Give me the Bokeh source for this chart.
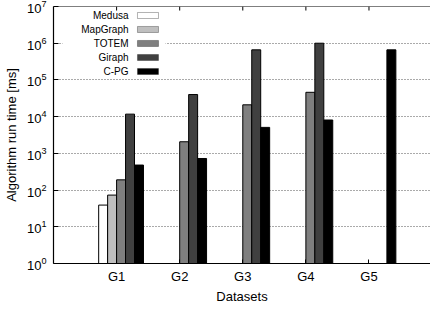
import numpy as np
from bokeh.plotting import figure
from bokeh.models import ColumnDataSource, FixedTicker, Range1d, BoxAnnotation, Label, Span
from bokeh.embed import file_html
from bokeh.resources import INLINE

# ---- data ----
datasets = ["G1", "G2", "G3", "G4", "G5"]
series_names = ["Medusa", "MapGraph", "TOTEM", "Giraph", "C-PG"]
medusa = [39, np.nan, np.nan, np.nan, np.nan]
mapgraph = [73, np.nan, np.nan, np.nan, np.nan]
totem = [190, 2070, 21000, 46000, np.nan]
giraph = [11700, 40000, 660000, 1000000, np.nan]
cpg = [480, 725, 5100, 8100, 660000]
series_values = [medusa, mapgraph, totem, giraph, cpg]
y_ticks = [1, 10, 100, 1000, 10000, 100000, 1000000, 10000000]

# ---- styles ----
colors = ["#ffffff", "#bfbfbf", "#7f7f7f", "#404040", "#000000"]
offsets = [-0.213, -0.071, 0.071, 0.213, 0.355]
bar_w = 0.142
FONT = "Liberation Sans"

p = figure(width=430, height=309, output_backend="svg", toolbar_location=None,
           y_axis_type="log", x_range=Range1d(0, 5.975), y_range=Range1d(1, 1e7))
p.min_border_left = 53
p.min_border_right = 0
p.min_border_top = 6
p.min_border_bottom = 46
p.outline_line_color = None
p.background_fill_color = "white"
p.border_fill_color = "white"

pos = np.arange(1, len(datasets) + 1)

for name, vals, col, off in zip(series_names, series_values, colors, offsets):
    v = np.array(vals, dtype=float)
    m = ~np.isnan(v)
    src = ColumnDataSource(dict(x=pos[m] + off, top=v[m], bottom=np.ones(m.sum())))
    p.vbar(x="x", top="top", bottom="bottom", width=bar_w, source=src,
           fill_color=col, line_color="black", line_width=1)

# x axis
p.xaxis.ticker = FixedTicker(ticks=list(pos))
p.xaxis.major_label_overrides = {int(i): d for i, d in zip(pos, datasets)}
p.xaxis.axis_label = "Datasets"
p.xaxis.major_tick_in = 4
p.xaxis.major_tick_out = 0
p.xaxis.minor_tick_line_color = None
p.xaxis.major_label_standoff = 5
p.xaxis.axis_label_standoff = 2

# y axis
p.yaxis.axis_label = "Algorithm run time [ms]"
p.yaxis.ticker = FixedTicker(ticks=y_ticks)
p.yaxis.major_tick_in = 5
p.yaxis.major_tick_out = 0
p.yaxis.minor_tick_line_color = None
p.yaxis.major_label_standoff = 7
p.yaxis.axis_label_standoff = 5

for ax in [p.xaxis[0], p.yaxis[0]]:
    ax.axis_line_color = "black"
    ax.axis_line_width = 1.2
    ax.major_tick_line_color = "black"
    ax.major_label_text_font = FONT
    ax.major_label_text_font_size = "13px"
    ax.major_label_text_color = "black"
    ax.axis_label_text_font = FONT
    ax.axis_label_text_font_size = "13px"
    ax.axis_label_text_font_style = "normal"
    ax.axis_label_text_color = "black"

# top border with mirrored ticks
p.add_layout(Span(location=y_ticks[-1], dimension="width", line_color="black", line_width=1.2))
p.segment(x0=pos, x1=pos, y0=np.full(len(pos), 10**6.89), y1=np.full(len(pos), 1e7),
          line_color="black", line_width=1)

# grid
p.xgrid.grid_line_color = None
p.ygrid.grid_line_color = "#555555"
p.ygrid.grid_line_dash = "1 2"
p.ygrid.grid_line_width = 1
p.ygrid.ticker = p.yaxis.ticker

# legend (text right-aligned, swatch to the right), inside the top-left
p.add_layout(BoxAnnotation(left=0.143, right=1.775, bottom=10**5.094, top=1e7,
                           fill_color="white", fill_alpha=1.0, line_color=None,
                           level="underlay"))
row_y = [6.755, 6.374, 5.993, 5.611, 5.230]
for name, col, ly in zip(series_names, colors, row_y):
    p.add_layout(Label(x=1.189, y=10**ly, text=name, text_align="right",
                       text_baseline="middle", text_font=FONT,
                       text_font_size="10px", text_color="black"))
    p.add_layout(BoxAnnotation(left=1.331, right=1.664, bottom=10**(ly - 0.082),
                               top=10**(ly + 0.082), fill_color=col, fill_alpha=1.0,
                               line_color="black", line_width=1))

open("out.html", "w").write(file_html(p, INLINE))
